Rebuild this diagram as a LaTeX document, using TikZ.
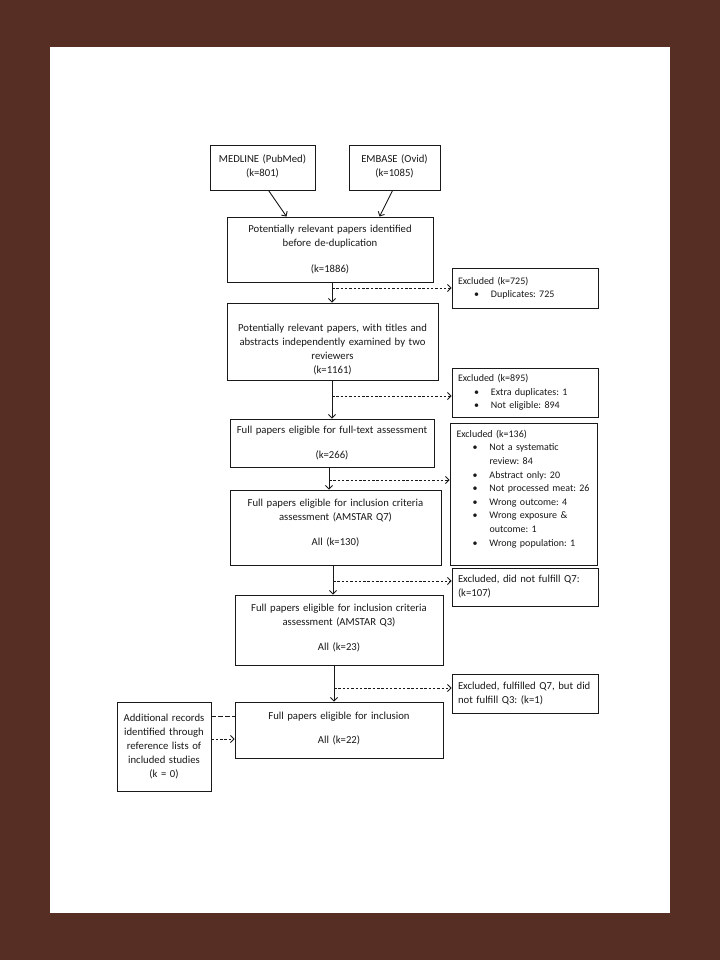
\documentclass[tikz,border=0pt]{standalone}
\usepackage{fontspec}
\setmainfont{Carlito}
\usetikzlibrary{arrows.meta,calc}
\definecolor{framebrown}{RGB}{87,46,35}
\definecolor{ink}{RGB}{25,25,25}
\newcommand\fs{\fontsize{10.7bp}{14bp}\selectfont\frenchspacing}
\newcommand\fsx{\fontsize{10bp}{13.6bp}\selectfont\frenchspacing}
\newcommand\bl[1]{\hspace*{16bp}\makebox[17bp][l]{\textbullet}\mbox{#1}}
\newcommand\bi[1]{\hspace*{33bp}\mbox{#1}}
\begin{document}
\begin{tikzpicture}[x=1bp,y=-1bp,
  box/.style={draw=ink, line width=0.9bp, align=center, inner sep=0pt, font=\fs, text=ink},
  exbox/.style={draw=ink, line width=0.9bp, align=left, inner xsep=6bp, inner ysep=0pt,
    text width=134bp, minimum width=146bp, font=\fsx, text=ink},
  arr/.style={draw=ink, line width=0.9bp, -{Straight Barb[length=3.5bp,width=7bp]}},
  darr/.style={arr, dash pattern=on 2.5bp off 1.8bp},
  dline/.style={draw=ink, line width=0.9bp, dash pattern=on 4.5bp off 2.5bp}]
\useasboundingbox (0,0) rectangle (720,960);
\fill[framebrown] (0,0) rectangle (720,960);
\fill[white] (50,47) rectangle (670,913);

% main column
\node[box, minimum width=105bp, minimum height=45bp, text width=103bp] (med) at (262.5,167.5)
  {\rule[-2bp]{0pt}{0pt}MEDLINE (PubMed)\\(k=801)\rule[-4bp]{0pt}{0pt}};
\node[box, minimum width=91bp, minimum height=45bp, text width=89bp] (emb) at (394.5,167.5)
  {EMBASE (Ovid)\\(k=1085)\rule[-4bp]{0pt}{0pt}};
\node[box, minimum width=206bp, minimum height=65bp, text width=200bp] (b1) at (330,249.5)
  {Potentially relevant papers identified\\before de-duplication\\[12bp](k=1886)};
\node[box, minimum width=211bp, minimum height=77bp, text width=205bp] (b2) at (332.5,341.5)
  {\rule{0pt}{23bp}Potentially relevant papers, with titles and\\abstracts independently examined by two\\reviewers\\(k=1161)};
\node[box, minimum width=204bp, minimum height=48bp, text width=198bp] (b3) at (332,443)
  {Full papers eligible for full-text assessment\\[11bp](k=266)};
\node[box, minimum width=211bp, minimum height=75bp, text width=205bp] (b4) at (335.5,527.5)
  {Full papers eligible for inclusion criteria\\assessment (AMSTAR Q7)\\[11bp]All (k=130)\rule[-11bp]{0pt}{0pt}};
\node[box, minimum width=208bp, minimum height=70bp, text width=202bp] (b5) at (339,630)
  {Full papers eligible for inclusion criteria\\assessment (AMSTAR Q3)\\[11bp]All (k=23)\rule[-6bp]{0pt}{0pt}};
\node[box, minimum width=208bp, minimum height=56bp, text width=202bp] (b6) at (339,730)
  {Full papers eligible for inclusion\\[10bp]All (k=22)\rule[-4bp]{0pt}{0pt}};
\node[box, minimum width=94bp, minimum height=89bp, text width=92bp] (add) at (164,746.5)
  {Additional records\\identified through\\reference lists of\\included studies\\(k = 0)};

% excluded boxes
\node[exbox, minimum height=40bp] (e1) at (525,288)
  {Excluded (k=725)\\\bl{Duplicates: 725}};
\node[exbox, minimum height=49bp] (e2) at (525,392.5)
  {Excluded (k=895)\\\bl{Extra duplicates: 1}\\\bl{Not eligible: 894}};
\node[exbox, minimum width=147bp, minimum height=142bp] (e3) at (523.5,494)
  {Excluded (k=136)\\\bl{Not a systematic}\\\bi{review: 84}\\\bl{Abstract only: 20}\\\bl{Not processed meat: 26}\\\bl{Wrong outcome: 4}\\\bl{Wrong exposure \&}\\\bi{outcome: 1}\\\bl{Wrong population: 1}\rule[-12bp]{0pt}{0pt}};
\node[exbox, font=\fs, minimum height=38bp] (e4) at (525,587)
  {\mbox{Excluded, did not fulfill Q7:}\\(k=107)};
\node[exbox, font=\fs, minimum height=39bp] (e5) at (525,693.5)
  {\mbox{Excluded, fulfilled Q7, but did}\\not fulfill Q3: (k=1)};

% input arrows
\draw[arr] ($(med.south west)+(59,0)$) -- ($(b1.north west)+(60,0)$);
\draw[arr] ($(emb.south west)+(44,0)$) -- ($(b1.north west)+(153,0)$);

% trunk
\coordinate (t1) at (332,288);
\coordinate (t2) at (332,396);
\coordinate (t3) at (329,480);
\coordinate (t4) at (333,581);
\coordinate (t5) at (334,688);
\draw[arr] (b1.south -| t1) -- (b2.north -| t1);
\draw[arr] (b2.south -| t2) -- (b3.north -| t2);
\draw[arr] (b3.south -| t3) -- (b4.north -| t3);
\draw[arr] (b4.south -| t4) -- (b5.north -| t4);
\draw[arr] (b5.south -| t5) -- (b6.north -| t5);
\draw[darr] (t1) -- (e1.west |- t1);
\draw[darr] (t2) -- (e2.west |- t2);
\draw[darr] (t3) -- (e3.west |- t3);
\draw[darr] (t4) -- (e4.west |- t4);
\draw[darr] (t5) -- (e5.west |- t5);

% additional records
\coordinate (a1) at (211,716);
\coordinate (a2) at (211,739);
\draw[dline] (add.east |- a1) -- (b6.west |- a1);
\draw[darr] (add.east |- a2) -- (b6.west |- a2);
\end{tikzpicture}
\end{document}
